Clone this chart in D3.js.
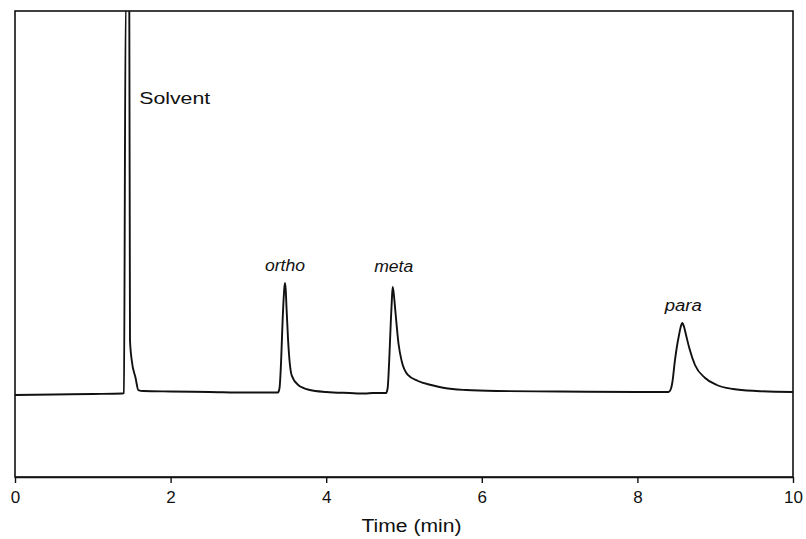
<!DOCTYPE html>
<html>
<head>
<meta charset="utf-8">
<script src="https://cdn.jsdelivr.net/npm/d3@7"></script>
<style>
  html, body { margin: 0; padding: 0; background: #fff; }
  svg { display: block; font-family: "Liberation Sans", Arial, sans-serif; }
</style>
</head>
<body>
<svg id="chart" width="806" height="539"></svg>
<script>
// Retention time (min) and detector signal (arbitrary units)
const time = [
  0.00, 0.50, 1.00, 1.38, 1.40, 1.423, 1.469, 1.478, 1.50, 1.55, 1.585, 1.65,
  2.00, 2.50, 3.00, 3.38, 3.40, 3.42, 3.44, 3.46, 3.47, 3.48, 3.49, 3.51,
  3.555, 3.64, 3.79, 4.00, 4.30, 4.50, 4.60, 4.77, 4.79, 4.81, 4.83, 4.845,
  4.855, 4.87, 4.89, 4.93, 4.97, 5.05, 5.18, 5.35, 5.52, 5.80, 6.20, 7.00,
  8.00, 8.40, 8.43, 8.45, 8.48, 8.505, 8.535, 8.56, 8.577, 8.60, 8.625, 8.667,
  8.74, 8.87, 9.02, 9.23, 9.53, 10.00
];
const signal = [
  21.12, 21.25, 21.38, 21.50, 21.63, 122, 122, 35.28, 30.13, 25.50, 22.40, 22.15,
  22.02, 21.89, 21.76, 21.76, 22.92, 29.62, 40.43, 48.16, 49.96, 48.16, 43.52, 35.28,
  26.27, 23.69, 22.40, 21.89, 21.63, 21.50, 21.63, 21.63, 22.92, 30.0, 39.8, 46.10,
  48.93, 46.87, 42.49, 34.25, 29.87, 26.27, 24.72, 23.69, 22.92, 22.40, 22.15, 22.02,
  21.89, 21.89, 22.66, 24.47, 29.62, 33.22, 36.57, 38.89, 39.66, 38.63, 36.57, 33.22,
  28.84, 25.50, 23.69, 22.66, 22.15, 21.89
];
const xTicks = [0, 2, 4, 6, 8, 10];
const xDomain = [0, 10];
const yDomain = [0, 120];
const peakNames = ["Solvent", "ortho", "meta", "para"];
const peakTimes = [1.423, 3.47, 4.855, 8.577];
const xTitle = "Time (min)";

const svg = d3.select("#chart");
const pL = 15, pR = 793, pT = 11, pB = 477;
const ink = "#111";

const x = d3.scaleLinear().domain(xDomain).range([pL, pR]);
const y = d3.scaleLinear().domain(yDomain).range([pB, pT]);

svg.append("defs").append("clipPath").attr("id", "plotclip")
  .append("rect").attr("x", pL).attr("y", pT)
  .attr("width", pR - pL).attr("height", pB - pT);

const pts = time.map((t, i) => [t, signal[i]]);
const line = d3.line().x(d => x(d[0])).y(d => y(d[1])).curve(d3.curveMonotoneX);

svg.append("path").datum(pts)
  .attr("clip-path", "url(#plotclip)")
  .attr("d", line)
  .attr("fill", "none").attr("stroke", ink).attr("stroke-width", 1.9)
  .attr("stroke-linejoin", "round");

// frame
svg.append("rect").attr("x", pL).attr("y", pT)
  .attr("width", pR - pL).attr("height", pB - pT)
  .attr("fill", "none").attr("stroke", ink).attr("stroke-width", 1.6);

// x axis
const axis = d3.axisBottom(x).tickValues(xTicks).tickSize(6).tickSizeOuter(0)
  .tickPadding(8).tickFormat(d3.format("d"));
const gx = svg.append("g").attr("transform", `translate(0,${pB})`).call(axis);
gx.select(".domain").attr("stroke", ink).attr("stroke-width", 1.6);
gx.selectAll(".tick line").attr("stroke", ink).attr("stroke-width", 1.4);
gx.selectAll(".tick text").attr("fill", ink)
  .style("font-size", "17px").style("font-family", "'Liberation Sans', Arial, sans-serif");

svg.append("text")
  .attr("x", 411.5).attr("y", 532)
  .attr("text-anchor", "middle")
  .attr("textLength", 100).attr("lengthAdjust", "spacingAndGlyphs")
  .style("font-size", "18px").attr("fill", ink)
  .text(xTitle);

// peak labels
const labelSpecs = [
  { dx: 13.5, yPix: 104, anchor: "start", italic: false, len: 71 },
  { dx: 0, yPix: 271, anchor: "middle", italic: true, len: 40 },
  { dx: 1, yPix: 271.5, anchor: "middle", italic: true, len: 39 },
  { dx: 1, yPix: 311, anchor: "middle", italic: true, len: 37 }
];
peakNames.forEach((name, i) => {
  const s = labelSpecs[i];
  svg.append("text")
    .attr("x", x(peakTimes[i]) + s.dx).attr("y", s.yPix)
    .attr("text-anchor", s.anchor)
    .attr("textLength", s.len).attr("lengthAdjust", "spacingAndGlyphs")
    .style("font-size", "16px")
    .style("font-style", s.italic ? "italic" : "normal")
    .attr("fill", ink)
    .text(name);
});
</script>
</body>
</html>
